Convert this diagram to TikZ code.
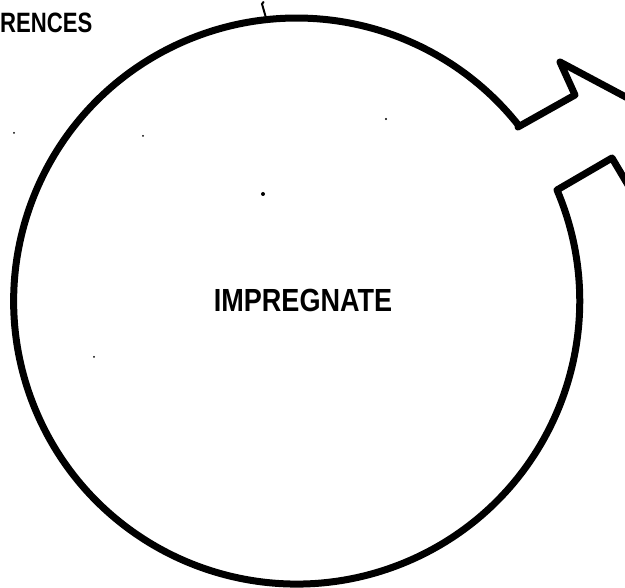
\documentclass[tikz,border=0pt]{standalone}
\usepackage{fontspec}
\setmainfont{Liberation Sans}
\begin{document}
\begin{tikzpicture}[x=1pt,y=1pt,
  outline/.style={draw=black,line width=7pt,line join=round,line cap=round},
  label/.style={inner sep=0pt,font=\bfseries},
  speck/.style={fill=black}]
\useasboundingbox (0,0) rectangle (625,588);
\clip (0,0) rectangle (625,588);
% arrow outline points
\coordinate (a1) at (518,461);
\coordinate (a2) at (575,493);
\coordinate (a3) at (560,526);
\coordinate (tip) at (637,485);
\coordinate (a5) at (631,398);
\coordinate (a6) at (612,430);
\coordinate (a7) at (557,398);
\draw[outline] (a1) -- (a2) -- (a3) -- (tip) -- (a5) -- (a6) -- (a7)
  arc[start angle=23.1, end angle=-321.8, radius=283] -- cycle;
% small tick on top
\coordinate (t1) at (266,570);
\coordinate (t2) at (262,584);
\draw[line width=2pt,line cap=round] (t1) -- (t2) -- ++(1.5,2);
% specks
\fill[speck] (14,455) circle (1pt);
\fill[speck] (143,452) circle (1pt);
\fill[speck] (386,469) circle (1.2pt);
\fill[speck] (263,394) circle (2pt);
\fill[speck] (94,231) circle (1pt);
% texts
\node[label,anchor=center] (imp) at (303,288)
  {\fontsize{32}{32}\selectfont\scalebox{0.845}[1]{IMPREGNATE}};
\node[label,anchor=west] (ref) at (0,565)
  {\fontsize{28}{28}\selectfont\scalebox{0.79}[1]{RENCES}};
\end{tikzpicture}
\end{document}
